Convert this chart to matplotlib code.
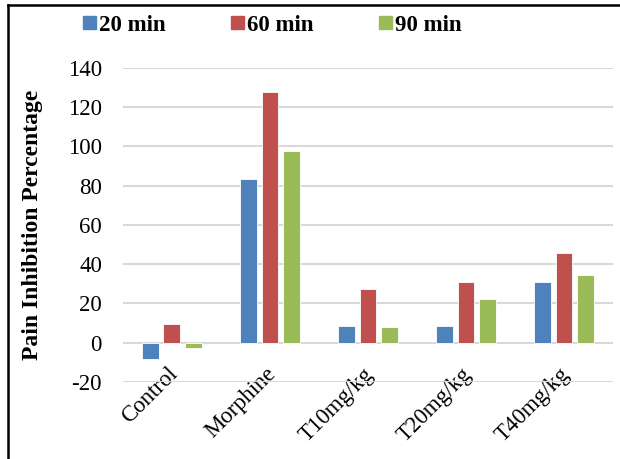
import numpy as np
import matplotlib
matplotlib.use("Agg")
import matplotlib.pyplot as plt
import matplotlib.transforms as mtransforms
from matplotlib.lines import Line2D
from matplotlib.patches import Patch

plt.rcParams['font.family'] = ['Liberation Serif', 'DejaVu Serif']
plt.rcParams['axes.unicode_minus'] = False

# data
groups = ["Control", "Morphine", "T10mg/kg", "T20mg/kg", "T40mg/kg"]
series = ["20 min", "60 min", "90 min"]
vals_20 = [-8.2, 83.3, 8.4, 8.5, 31.0]
vals_60 = [9.7, 127.7, 27.4, 31.1, 45.8]
vals_90 = [-2.6, 97.6, 8.0, 22.3, 34.4]
colors = ["#4F81BD", "#C0504D", "#9BBB59"]

fig = plt.figure(figsize=(6.2, 4.59), dpi=100)
ax = fig.add_axes([0.198, 0.168, 0.791, 0.684])

x = np.arange(len(groups))
w = 0.17
offs = [-0.22, 0.0, 0.22]
for vals, off, c in zip([vals_20, vals_60, vals_90], offs, colors):
    ax.bar(x + off, vals, width=w, color=c, edgecolor="white", linewidth=0.6, zorder=3)

ax.set_xlim(-0.5, len(groups) - 0.5)
ax.set_ylim(-20, 140)
ax.set_yticks(np.arange(-20, 141, 20))
ax.grid(axis="y", color="#D9D9D9", linewidth=1.5, zorder=0)
for s in ax.spines.values():
    s.set_color("none")
# category labels sit under the zero line, like the original
ax.spines["bottom"].set_position(("data", 0))
ax.tick_params(axis="both", length=0, labelsize=16.5)
ax.tick_params(axis="y", pad=15)
ax.set_xticks(x)
ax.set_xticklabels(groups, rotation=45, ha="right", rotation_mode="anchor")
ax.tick_params(axis="x", pad=15)
shift = mtransforms.ScaledTranslation(-0.05, 0, fig.dpi_scale_trans)
for lab in ax.get_xticklabels():
    lab.set_transform(lab.get_transform() + shift)
ax.set_ylabel("Pain Inhibition Percentage", fontsize=17, fontweight="bold")
ax.yaxis.set_label_coords(-0.163, 0.5)

handles = [Patch(color=c) for c in colors]
fig.legend(handles, series, loc="center", bbox_to_anchor=(0.4395, 0.9455), ncol=3,
           frameon=False, prop={"weight": "bold", "size": 16.5},
           handlelength=0.55, handleheight=0.55, handletextpad=0.15, columnspacing=2.85)

# outer frame (left and top edge)
fig.add_artist(Line2D([8 / 620, 8 / 620], [0, 1 - 5 / 459], color="black", linewidth=1.8))
fig.add_artist(Line2D([8 / 620, 1], [1 - 5 / 459, 1 - 5 / 459], color="black", linewidth=1.8))

fig.savefig("out.png", dpi=100)
